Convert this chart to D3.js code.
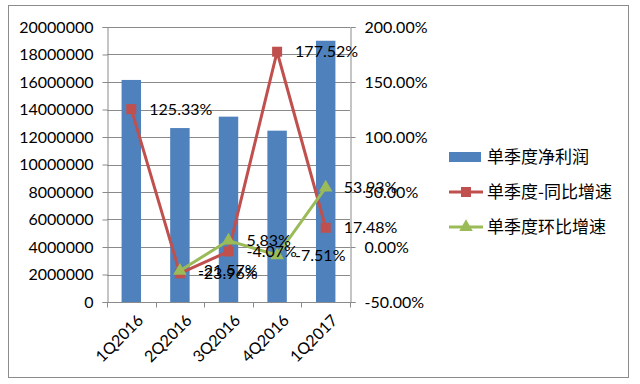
<!DOCTYPE html>
<html lang="zh">
<head>
<meta charset="UTF-8">
<title>单季度净利润</title>
<script src="https://d3js.org/d3.v7.min.js"></script>
<style>
    body { margin: 0; background: #fff; }
    svg { display: block; }
    text { font-family: Lato, "Liberation Sans", sans-serif; fill: #000; }
    .legend text { font-family: "Noto Sans CJK SC", sans-serif; }
</style>
</head>
<body>
<svg width="640" height="384"></svg>
<script>
    // データ
    const quarters = ["1Q2016", "2Q2016", "3Q2016", "4Q2016", "1Q2017"];
    const netProfit = [16150000, 12650000, 13480000, 12460000, 19000000];
    const yoyGrowth = [125.33, -23.96, -4.07, 177.52, 17.48];
    const qoqGrowth = [null, -21.57, 5.83, -7.51, 53.93];
    const leftTicks = [0, 2000000, 4000000, 6000000, 8000000, 10000000, 12000000, 14000000, 16000000, 18000000, 20000000];
    const rightTicks = [-50, 0, 50, 100, 150, 200];
    const seriesNames = ["单季度净利润", "单季度-同比增速", "单季度环比增速"];

    const blue = "#4F81BD", red = "#C0504D", green = "#9BBB59";

    const svg = d3.select("svg");
    const plotL = 107, plotR = 350, plotT = 27, plotB = 302;

    // 外枠
    svg.append("rect")
        .attr("x", 8.5).attr("y", 5.5)
        .attr("width", 620).attr("height", 372)
        .attr("fill", "none").attr("stroke", "#8c8c8c");

    const x = d3.scaleBand().domain(quarters).range([plotL, plotR]).paddingInner(0.6).paddingOuter(0.3);
    const xc = d => x(d) + x.bandwidth() / 2;
    const y = d3.scaleLinear().domain([0, 20000000]).range([plotB, plotT]);
    const y2 = d3.scaleLinear().domain([-50, 200]).range([plotB, plotT]);

    // グリッド線
    svg.append("g")
        .selectAll("line")
        .data(leftTicks.slice(1))
        .enter()
        .append("line")
        .attr("x1", plotL).attr("x2", plotR)
        .attr("y1", d => Math.round(y(d)) + 0.5)
        .attr("y2", d => Math.round(y(d)) + 0.5)
        .attr("stroke", "#8a8a8a").attr("stroke-width", 1);

    // 棒グラフ
    svg.append("g")
        .selectAll("rect")
        .data(netProfit)
        .enter()
        .append("rect")
        .attr("x", (d, i) => x(quarters[i]))
        .attr("width", x.bandwidth())
        .attr("y", d => y(d))
        .attr("height", d => y(0) - y(d))
        .attr("fill", blue);

    // 軸
    const leftAxis = svg.append("g")
        .attr("transform", `translate(${plotL + 0.5},0)`)
        .call(d3.axisLeft(y).tickValues(leftTicks).tickFormat(d3.format("d")).tickSize(5).tickPadding(9));
    const rightAxis = svg.append("g")
        .attr("transform", `translate(${plotR + 0.5},0)`)
        .call(d3.axisRight(y2).tickValues(rightTicks).tickFormat(d => d.toFixed(2) + "%").tickSize(5).tickPadding(9));
    const xEdges = d3.range(quarters.length + 1).map(i => plotL + (plotR - plotL) * i / quarters.length);
    const bottomAxis = svg.append("g")
        .attr("transform", `translate(0,${plotB + 0.5})`);
    bottomAxis.append("line")
        .attr("x1", plotL).attr("x2", plotR + 1)
        .attr("stroke", "#8a8a8a");
    bottomAxis.selectAll("line.tick")
        .data(xEdges)
        .enter()
        .append("line")
        .attr("class", "tick")
        .attr("x1", d => Math.round(d) + 0.5).attr("x2", d => Math.round(d) + 0.5)
        .attr("y1", 0).attr("y2", 5)
        .attr("stroke", "#8a8a8a");
    bottomAxis.selectAll("text")
        .data(quarters)
        .enter()
        .append("text")
        .attr("transform", d => `translate(${xc(d) + 5},${11}) rotate(-45)`)
        .attr("text-anchor", "end")
        .attr("dy", "0.7em")
        .style("font-size", "16px")
        .text(d => d);

    [leftAxis, rightAxis].forEach(a => {
        a.select(".domain").attr("stroke", "#8a8a8a");
        a.selectAll(".tick line").attr("stroke", "#8a8a8a");
        a.selectAll("text").style("font-size", "16px").attr("fill", "#000");
    });

    // 折れ線
    const line = d3.line()
        .defined(d => d.v !== null)
        .x(d => xc(d.q))
        .y(d => y2(d.v));
    const yoyData = quarters.map((q, i) => ({ q, v: yoyGrowth[i] }));
    const qoqData = quarters.map((q, i) => ({ q, v: qoqGrowth[i] }));

    svg.append("path").datum(yoyData)
        .attr("d", line).attr("fill", "none")
        .attr("stroke", red).attr("stroke-width", 3).attr("stroke-linejoin", "round");
    svg.append("g").selectAll("rect")
        .data(yoyData)
        .enter()
        .append("rect")
        .attr("x", d => xc(d.q) - 5).attr("y", d => y2(d.v) - 5)
        .attr("width", 10).attr("height", 10)
        .attr("fill", red);

    svg.append("path").datum(qoqData)
        .attr("d", line).attr("fill", "none")
        .attr("stroke", green).attr("stroke-width", 3).attr("stroke-linejoin", "round");
    const tri = d3.symbol().type(d3.symbolTriangle).size(80);
    svg.append("g").selectAll("path")
        .data(qoqData.filter(d => d.v !== null))
        .enter()
        .append("path")
        .attr("d", tri)
        .attr("transform", d => `translate(${xc(d.q)},${y2(d.v)})`)
        .attr("fill", green);

    // データラベル
    const labels = yoyData.concat(qoqData.filter(d => d.v !== null));
    svg.append("g").selectAll("text")
        .data(labels)
        .enter()
        .append("text")
        .attr("x", d => xc(d.q) + 18)
        .attr("y", d => y2(d.v))
        .attr("dy", "0.35em")
        .style("font-size", "16px")
        .text(d => d.v.toFixed(2) + "%");

    // 凡例
    const legend = svg.append("g").attr("class", "legend");
    const ly = [157, 192, 227];
    legend.append("rect")
        .attr("x", 449).attr("y", ly[0] - 5).attr("width", 32).attr("height", 10)
        .attr("fill", blue);
    legend.append("line")
        .attr("x1", 449).attr("x2", 483).attr("y1", ly[1]).attr("y2", ly[1])
        .attr("stroke", red).attr("stroke-width", 3);
    legend.append("rect")
        .attr("x", 461).attr("y", ly[1] - 5).attr("width", 10).attr("height", 10)
        .attr("fill", red);
    legend.append("line")
        .attr("x1", 449).attr("x2", 483).attr("y1", ly[2]).attr("y2", ly[2])
        .attr("stroke", green).attr("stroke-width", 3);
    legend.append("path")
        .attr("d", tri)
        .attr("transform", `translate(466,${ly[2]})`)
        .attr("fill", green);
    legend.selectAll("text")
        .data(seriesNames)
        .enter()
        .append("text")
        .attr("x", 487)
        .attr("y", (d, i) => ly[i])
        .attr("dy", "0.35em")
        .style("font-size", "17px")
        .text(d => d);
</script>
</body>
</html>
